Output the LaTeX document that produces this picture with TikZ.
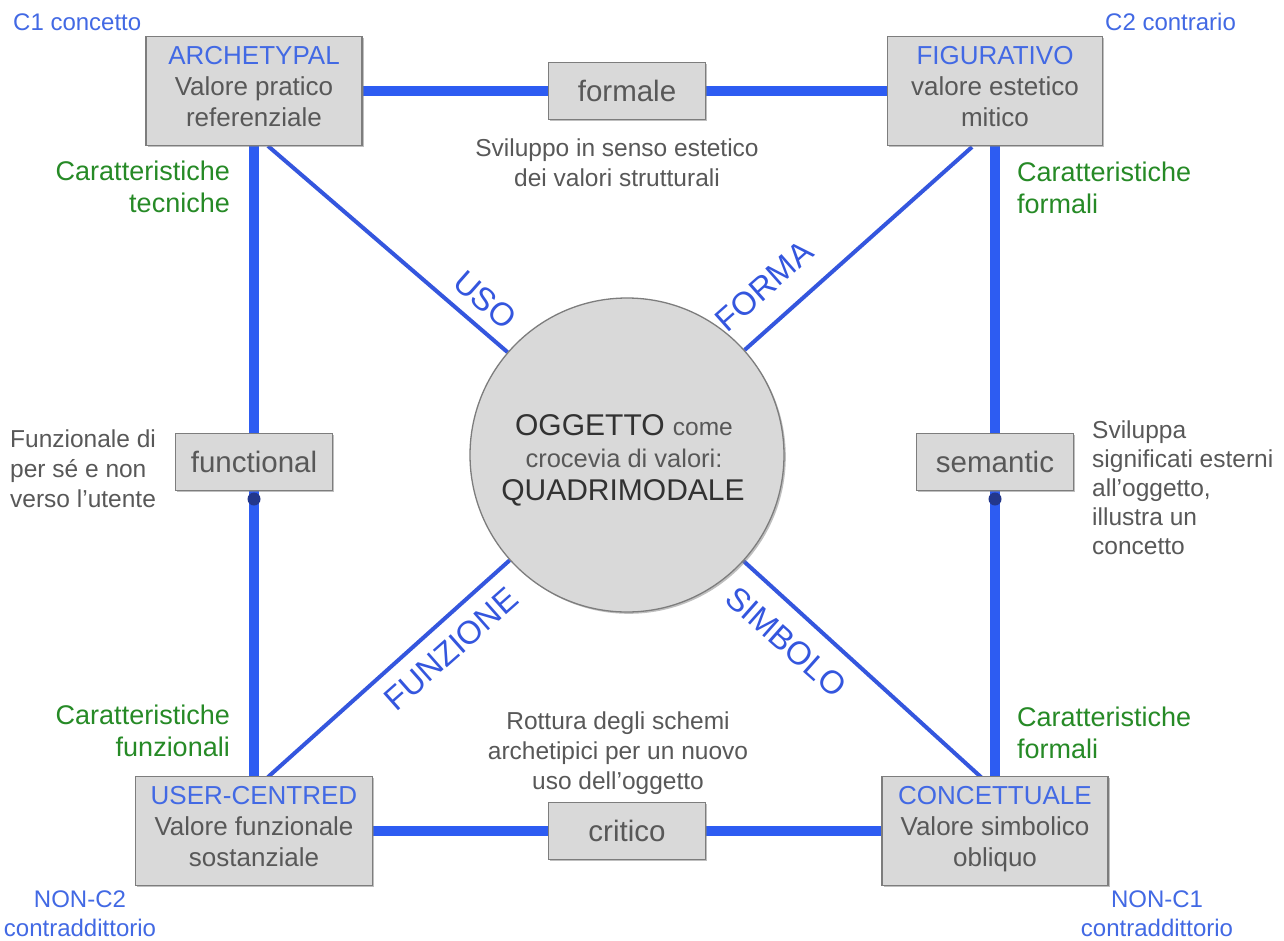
\documentclass[tikz,border=0pt]{standalone}
\usepackage{fontspec}
\setmainfont{Liberation Sans}
\usetikzlibrary{shadows,backgrounds}

\definecolor{linkblue}{RGB}{45,92,242}
\definecolor{diagblue}{RGB}{52,86,222}
\definecolor{titleblue}{RGB}{66,105,228}
\definecolor{notegreen}{RGB}{38,138,38}
\definecolor{notegray}{RGB}{88,88,88}
\definecolor{darktext}{RGB}{50,50,50}
\definecolor{boxfill}{RGB}{217,217,217}
\definecolor{boxline}{RGB}{125,125,125}
\definecolor{dotblue}{RGB}{35,55,140}

\tikzset{
  boxshadow/.style={drop shadow={shadow xshift=1.8pt, shadow yshift=-1.8pt, opacity=0.5}},
  valbox/.style={draw=boxline, fill=boxfill, line width=1.3pt, inner sep=0pt,
    align=center, text=notegray, font=\fontsize{26}{31}\selectfont,
    minimum height=109pt, boxshadow,
    execute at begin node=\strut, execute at end node=\strut},
  relbox/.style={draw=boxline, fill=boxfill, line width=1.3pt, inner sep=0pt,
    text=notegray, font=\fontsize{29.5}{34}\selectfont,
    minimum width=157pt, minimum height=57pt, boxshadow},
  objcircle/.style={circle, draw=boxline, fill=boxfill, line width=1.3pt,
    minimum size=314pt, inner sep=0pt, boxshadow},
  thickline/.style={draw=linkblue, line width=10pt},
  diagline/.style={draw=diagblue, line width=4pt},
  note/.style={text=notegray, font=\fontsize{24.5}{30}\selectfont, inner sep=0pt,
    execute at begin node=\strut, execute at end node=\strut},
  greennote/.style={text=notegreen, font=\fontsize{27}{32}\selectfont, inner sep=0pt,
    execute at begin node=\strut, execute at end node=\strut},
  cornernote/.style={text=titleblue, font=\fontsize{24}{29}\selectfont, inner sep=0pt,
    execute at begin node=\strut, execute at end node=\strut},
  axislabel/.style={text=diagblue, font=\fontsize{32.5}{36}\selectfont, inner sep=0pt}
}

\begin{document}
\begin{tikzpicture}[x=1pt, y=-1pt]
  \useasboundingbox (0,0) rectangle (1284,940);

  % the four value boxes at the corners
  \node[valbox, minimum width=216pt] (arch) at (254,91)
    {\textcolor{titleblue}{ARCHETYPAL}\\Valore pratico\\referenziale};
  \node[valbox, minimum width=215pt] (fig) at (995,91)
    {\textcolor{titleblue}{FIGURATIVO}\\valore estetico\\mitico};
  \node[valbox, minimum width=237pt] (user) at (254,831)
    {\textcolor{titleblue}{USER-CENTRED}\\Valore funzionale\\sostanziale};
  \node[valbox, minimum width=226pt] (conc) at (995,831)
    {\textcolor{titleblue}{CONCETTUALE}\\Valore simbolico\\obliquo};

  % relation boxes on the sides of the square
  \node[relbox] (formale) at (627,91) {formale};
  \node[relbox] (critico) at (627,831) {critico};
  \node[relbox] (func) at (254,462) {functional};
  \node[relbox] (sem) at (995,462) {semantic};

  % central circle
  \node[objcircle] (obj) at (627,455) {};
  \node[inner sep=0pt, anchor=base, text=darktext] (objl1) at (624,435)
    {\fontsize{30}{34}\selectfont OGGETTO \textcolor{notegray}{\fontsize{24.5}{30}\selectfont come}};
  \node[inner sep=0pt, anchor=base, text=notegray, font=\fontsize{25.5}{30}\selectfont] (objl2) at (624,467)
    {crocevia di valori:};
  \node[inner sep=0pt, anchor=base, text=darktext, font=\fontsize{30}{34}\selectfont] (objl3) at (623,500)
    {QUADRIMODALE};

  % foot points of the diagonal connectors on the corner boxes
  \coordinate (archfoot) at (268,146);
  \coordinate (figfoot) at (972,147);
  \coordinate (userfoot) at (268,777);
  \coordinate (concfoot) at (982,778);
  % end dots below the side boxes
  \coordinate (funcdot) at (254,499);
  \coordinate (semdot) at (995,499);

  \begin{scope}[on background layer]
    \fill[white] (0,0) rectangle (1284,940);
    % sides of the square
    \draw[thickline] (arch.east) -- (formale.west);
    \draw[thickline] (formale.east) -- (fig.west);
    \draw[thickline] (user.east) -- (critico.west);
    \draw[thickline] (critico.east) -- (conc.west);
    \draw[thickline] (arch.south) -- (func.north);
    \draw[thickline] (func.south) -- (user.north);
    \draw[thickline] (fig.south) -- (sem.north);
    \draw[thickline] (sem.south) -- (conc.north);
    % diagonals towards the object
    \draw[diagline] (archfoot) -- (obj);
    \draw[diagline] (figfoot) -- (obj);
    \draw[diagline] (userfoot) -- (obj);
    \draw[diagline] (concfoot) -- (obj);
  \end{scope}
  \fill[dotblue] (funcdot) circle (6.5pt);
  \fill[dotblue] (semdot) circle (6.5pt);

  % labels of the diagonals
  \node[axislabel, rotate=-41.5] (luso) at (485,300) {USO};
  \node[axislabel, rotate=41.5] (lforma) at (764,286) {FORMA};
  \node[axislabel, rotate=41.5] (lfunz) at (451,649) {FUNZIONE};
  \node[axislabel, rotate=-41.5] (lsimb) at (786,642) {SIMBOLO};

  % corner captions
  \node[cornernote, anchor=west] (c1) at (13,25) {C1 concetto};
  \node[cornernote, anchor=west] (c2) at (1105,25) {C2 contrario};
  \node[cornernote, align=center] (nc2) at (80,918) {NON-C2\\contraddittorio};
  \node[cornernote, align=center] (nc1) at (1157,918) {NON-C1\\contraddittorio};

  % green notes along the vertical sides
  \node[greennote, align=right, anchor=east] (gtl) at (230,192) {Caratteristiche\\tecniche};
  \node[greennote, align=right, anchor=east] (gbl) at (230,736) {Caratteristiche\\funzionali};
  \node[greennote, align=left, anchor=west] (gtr) at (1017,193) {Caratteristiche\\formali};
  \node[greennote, align=left, anchor=west] (gbr) at (1017,738) {Caratteristiche\\formali};

  % gray descriptions
  \node[note, align=center] (dtop) at (617,167) {Sviluppo in senso estetico\\dei valori strutturali};
  \node[note, align=center] (dbot) at (618,755) {Rottura degli schemi\\archetipici per un nuovo\\uso dell’oggetto};
  \node[note, align=left, anchor=west] (dleft) at (10,473) {Funzionale di\\per sé e non\\verso l’utente};
  \node[note, align=left, anchor=west, font=\fontsize{24.5}{29}\selectfont] (dright) at (1092,492)
    {Sviluppa\\significati esterni\\all’oggetto,\\illustra un\\concetto};
\end{tikzpicture}
\end{document}
